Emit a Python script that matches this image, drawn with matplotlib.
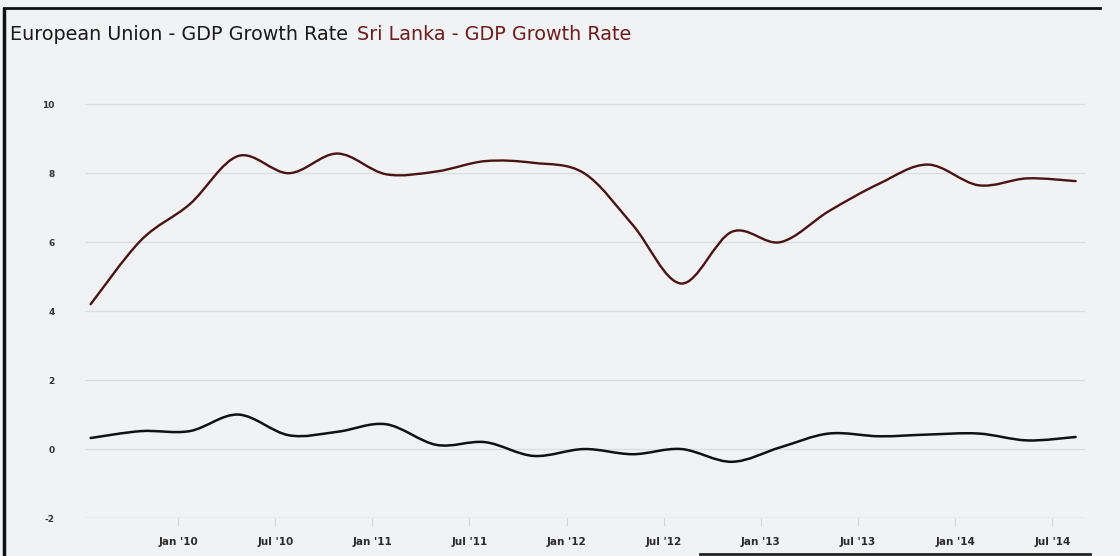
import matplotlib
matplotlib.use("Agg")
import matplotlib.pyplot as plt
from matplotlib.path import Path
from matplotlib.patches import PathPatch
import numpy as np

# Quarterly observation positions (decimal years, as placed on the chart)
periods = [2009.55, 2009.81, 2010.06, 2010.31, 2010.57, 2010.82, 2011.07,
           2011.33, 2011.58, 2011.83, 2012.09, 2012.34, 2012.59, 2012.85,
           2013.10, 2013.35, 2013.61, 2013.86, 2014.12, 2014.37, 2014.62]

sri_lanka = [4.2, 6.06, 7.1, 8.5, 8.0, 8.57, 7.97, 8.05, 8.35, 8.3, 8.0,
             6.5, 4.8, 6.3, 6.0, 6.9, 7.7, 8.25, 7.65, 7.85, 7.77]

european_union = [0.32, 0.52, 0.52, 1.0, 0.4, 0.5, 0.72, 0.12, 0.2, -0.2, 0.0,
                  -0.15, 0.0, -0.37, 0.05, 0.45, 0.37, 0.42, 0.45, 0.25, 0.35]

tick_positions = [2010.0, 2010.5, 2011.0, 2011.5, 2012.0, 2012.5, 2013.0,
                  2013.5, 2014.0, 2014.5]
tick_labels = ["Jan '10", "Jul '10", "Jan '11", "Jul '11", "Jan '12", "Jul '12",
               "Jan '13", "Jul '13", "Jan '14", "Jul '14"]
y_ticks = [-2, 0, 2, 4, 6, 8, 10]

title_eu = "European Union - GDP Growth Rate"
title_sl = "Sri Lanka - GDP Growth Rate"


def smooth_path(xs, ys):
    """Catmull-Rom style cubic Bezier path through the data points."""
    pts = np.column_stack([xs, ys]).astype(float)
    n = len(pts)
    verts = [pts[0]]
    codes = [Path.MOVETO]
    for i in range(n - 1):
        p0 = pts[i - 1] if i > 0 else pts[i]
        p1 = pts[i]
        p2 = pts[i + 1]
        p3 = pts[i + 2] if i + 2 < n else pts[i + 1]
        c1 = p1 + (p2 - p0) / 6.0
        c2 = p2 - (p3 - p1) / 6.0
        verts += [c1, c2, p2]
        codes += [Path.CURVE4, Path.CURVE4, Path.CURVE4]
    return Path(verts, codes)


bg = "#f1f2f4"
fig = plt.figure(figsize=(11.2, 5.56), dpi=100, facecolor=bg)
ax = fig.add_axes([85 / 1120, (556 - 518) / 556, 1000 / 1120, 431 / 556])
ax.set_facecolor(bg)

ax.set_xlim(2009.521, 2014.668)
ax.set_ylim(-2, 10.5)

for y in y_ticks:
    ax.axhline(y, color="#d9dee4" if y != -2 else "#cdd5dd", lw=1.0, zorder=1)

ax.add_patch(PathPatch(smooth_path(periods, sri_lanka), facecolor="none",
                       edgecolor="#4a1414", lw=1.7, zorder=3, capstyle="round"))
ax.add_patch(PathPatch(smooth_path(periods, european_union), facecolor="none",
                       edgecolor="#111111", lw=1.8, zorder=3, capstyle="round"))

for s in ax.spines.values():
    s.set_visible(False)

ax.set_yticks(y_ticks)
ax.set_yticklabels([str(v) for v in y_ticks], fontsize=6.5, fontweight="bold",
                   color="#333333", family="DejaVu Sans")
ax.tick_params(axis="y", length=0, pad=22)

ax.set_xticks(tick_positions)
ax.set_xticklabels(tick_labels, fontsize=7.5, fontweight="bold", color="#2a2a2a",
                   family="DejaVu Sans")
ax.tick_params(axis="x", length=6, width=0.8, color="#d0d8e0", pad=8)

fig.text(10 / 1120, 1 - 35 / 556, title_eu, fontsize=13.8, color="#1a1a1a",
         family="DejaVu Sans", va="center", ha="left")
fig.text(357 / 1120, 1 - 35 / 556, title_sl, fontsize=13.8, color="#6e1c1c",
         family="DejaVu Sans", va="center", ha="left")

# photo frame edges
fig.add_artist(plt.Line2D([4 / 1120, 4 / 1120], [0, 1 - 9 / 556],
                          transform=fig.transFigure, color="#111111", lw=2.5))
fig.add_artist(plt.Line2D([4 / 1120, 1100 / 1120], [1 - 8 / 556, 1 - 8 / 556],
                          transform=fig.transFigure, color="#111111", lw=2.0))
fig.add_artist(plt.Line2D([700 / 1120, 1090 / 1120], [2 / 556, 2 / 556],
                          transform=fig.transFigure, color="#222222", lw=2.0))

fig.savefig("out.png", dpi=100, facecolor=bg)
